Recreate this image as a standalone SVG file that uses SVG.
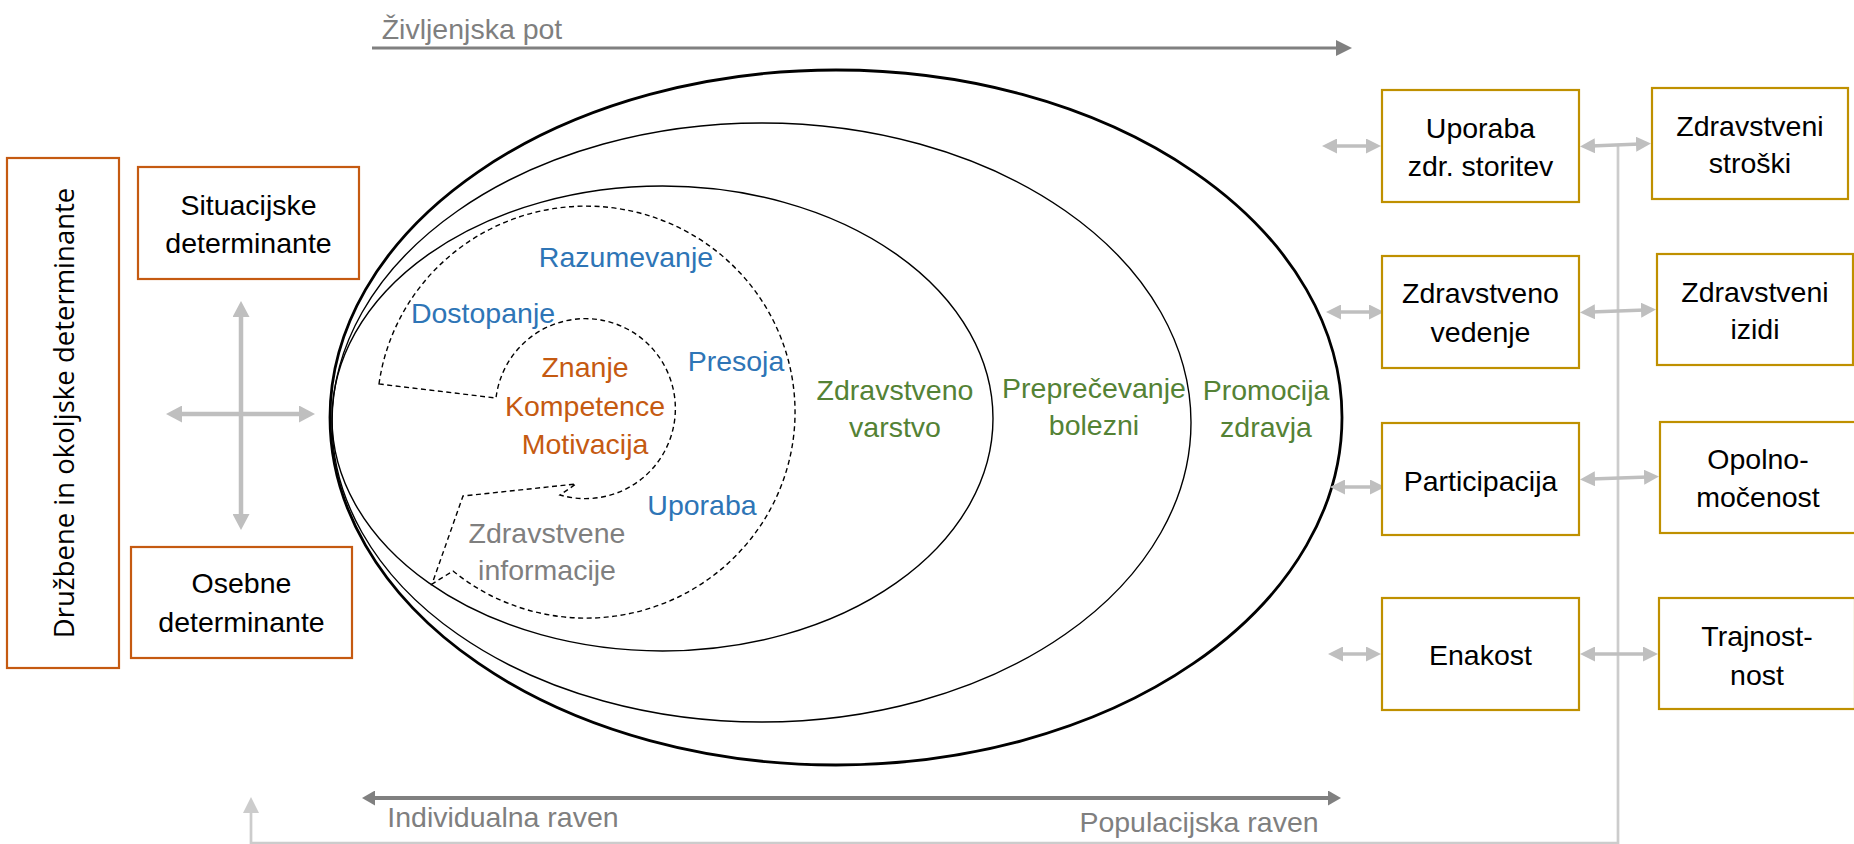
<svg xmlns="http://www.w3.org/2000/svg" width="1854" height="844" viewBox="0 0 1854 844">
<defs>
<style>
.t{font-family:"Liberation Sans",Arial,sans-serif;font-size:28.5px;text-anchor:middle;fill:#000}
.blue{fill:#2E75B6}
.orange{fill:#C55A11}
.green{fill:#548235}
.grey{fill:#7F7F7F}
.obox{fill:#fff;stroke:#C55A11;stroke-width:2.2}
.gbox{fill:#fff;stroke:#BF9000;stroke-width:2.2}
.ell{fill:none;stroke:#000;stroke-width:1.4}
.lt{fill:none;stroke:#BFBFBF;stroke-width:3.5}
</style>
<marker id="mDark" markerUnits="userSpaceOnUse" markerWidth="16" markerHeight="16" refX="5" refY="8" orient="auto-start-reverse" viewBox="0 0 16 16"><path d="M0,0 L16,8 L0,16 z" fill="#808080"/></marker>
<marker id="mDark2" markerUnits="userSpaceOnUse" markerWidth="13" markerHeight="15" refX="4" refY="7.5" orient="auto-start-reverse" viewBox="0 0 13 15"><path d="M0,0 L13,7.5 L0,15 z" fill="#808080"/></marker>
<marker id="mLight" markerUnits="userSpaceOnUse" markerWidth="15" markerHeight="15" refX="4" refY="7.5" orient="auto-start-reverse" viewBox="0 0 15 15"><path d="M0,0 L15,7.5 L0,15 z" fill="#BFBFBF"/></marker>
<marker id="mCross" markerUnits="userSpaceOnUse" markerWidth="16" markerHeight="17" refX="4" refY="8.5" orient="auto-start-reverse" viewBox="0 0 16 17"><path d="M0,0 L16,8.5 L0,17 z" fill="#BFBFBF"/></marker>
<marker id="mFb" markerUnits="userSpaceOnUse" markerWidth="16" markerHeight="16" refX="4" refY="8" orient="auto" viewBox="0 0 16 16"><path d="M0,0 L16,8 L0,16 z" fill="#CCCCCC"/></marker>
</defs>
<rect width="1854" height="844" fill="#fff"/>

<g id="levels">
<ellipse id="promocija" cx="836" cy="417.5" rx="506" ry="347.5" fill="none" stroke="#000" stroke-width="2.8"/>
<ellipse id="preprecevanje" class="ell" cx="761.5" cy="422.5" rx="429.5" ry="299.5"/>
<ellipse id="varstvo" class="ell" cx="662.5" cy="418.5" rx="330.5" ry="232.5"/>
<path id="cycle" d="M379,384 A209,206 0 1,1 453,571 L432,584 L463,496 L576,484 L560,495 A90,90 0 1,0 496,398 Z" fill="none" stroke="#000" stroke-width="1.4" stroke-dasharray="5 3.5"/>
</g>

<g id="connectors">
<line x1="372" y1="48" x2="1341" y2="48" stroke="#808080" stroke-width="3" marker-end="url(#mDark)"/>
<line x1="371" y1="798" x2="1332" y2="798" stroke="#808080" stroke-width="4" marker-start="url(#mDark2)" marker-end="url(#mDark2)"/>
<line x1="241" y1="313" x2="241" y2="518" stroke="#BFBFBF" stroke-width="4.5" marker-start="url(#mCross)" marker-end="url(#mCross)"/>
<line x1="178" y1="414" x2="303" y2="414" stroke="#BFBFBF" stroke-width="4.5" marker-start="url(#mCross)" marker-end="url(#mCross)"/>
<path d="M1618,145 V843 H251 V809" fill="none" stroke="#CCCCCC" stroke-width="2.7" marker-end="url(#mFb)"/>
<line class="lt" x1="1333" y1="146" x2="1370" y2="146" marker-start="url(#mLight)" marker-end="url(#mLight)"/>
<line class="lt" x1="1337" y1="312" x2="1373" y2="312" marker-start="url(#mLight)" marker-end="url(#mLight)"/>
<line class="lt" x1="1341" y1="487" x2="1374" y2="487" marker-start="url(#mLight)" marker-end="url(#mLight)"/>
<line class="lt" x1="1339" y1="654" x2="1370" y2="654" marker-start="url(#mLight)" marker-end="url(#mLight)"/>
<line class="lt" x1="1591" y1="146" x2="1640" y2="144" marker-start="url(#mLight)" marker-end="url(#mLight)"/>
<line class="lt" x1="1591" y1="312" x2="1645" y2="310" marker-start="url(#mLight)" marker-end="url(#mLight)"/>
<line class="lt" x1="1591" y1="479" x2="1648" y2="477" marker-start="url(#mLight)" marker-end="url(#mLight)"/>
<line class="lt" x1="1591" y1="654" x2="1647" y2="654" marker-start="url(#mLight)" marker-end="url(#mLight)"/>
</g>

<g id="labels">
<text class="t grey" x="472" y="39">Življenjska pot</text>
<text class="t grey" x="503" y="827">Individualna raven</text>
<text class="t grey" x="1199" y="832">Populacijska raven</text>
</g>

<g id="druzbene">
<rect class="obox" x="7" y="158" width="112" height="510"/>
<text transform="translate(74,413) rotate(-90)" style="font-family:'Open Sans','Noto Sans',sans-serif;font-size:27.5px;text-anchor:middle;fill:#000">Družbene in okoljske determinante</text>
</g>
<g id="situacijske">
<rect class="obox" x="138" y="167" width="221" height="112"/>
<text class="t" x="248.5" y="215">Situacijske</text>
<text class="t" x="248.5" y="253">determinante</text>
</g>
<g id="osebne">
<rect class="obox" x="131" y="547" width="221" height="111"/>
<text class="t" x="241.5" y="593">Osebne</text>
<text class="t" x="241.5" y="632">determinante</text>
</g>

<g id="inner-texts">
<text class="t blue" x="626" y="267">Razumevanje</text>
<text class="t blue" x="483" y="323">Dostopanje</text>
<text class="t blue" x="736" y="371">Presoja</text>
<text class="t blue" x="702" y="515">Uporaba</text>
<text class="t orange" x="585" y="377">Znanje</text>
<text class="t orange" x="585" y="416">Kompetence</text>
<text class="t orange" x="585" y="454">Motivacija</text>
<text class="t grey" x="547" y="543">Zdravstvene</text>
<text class="t grey" x="547" y="580">informacije</text>
<text class="t green" x="895" y="400">Zdravstveno</text>
<text class="t green" x="895" y="437">varstvo</text>
<text class="t green" x="1094" y="398">Preprečevanje</text>
<text class="t green" x="1094" y="435">bolezni</text>
<text class="t green" x="1266" y="400">Promocija</text>
<text class="t green" x="1266" y="437">zdravja</text>
</g>

<g id="uporaba-storitev">
<rect class="gbox" x="1382" y="90" width="197" height="112"/>
<text class="t" x="1480.5" y="138">Uporaba</text>
<text class="t" x="1480.5" y="176">zdr. storitev</text>
</g>
<g id="vedenje">
<rect class="gbox" x="1382" y="256" width="197" height="112"/>
<text class="t" x="1480.5" y="303">Zdravstveno</text>
<text class="t" x="1480.5" y="342">vedenje</text>
</g>
<g id="participacija">
<rect class="gbox" x="1382" y="423" width="197" height="112"/>
<text class="t" x="1480.5" y="491">Participacija</text>
</g>
<g id="enakost">
<rect class="gbox" x="1382" y="598" width="197" height="112"/>
<text class="t" x="1480.5" y="665">Enakost</text>
</g>
<g id="stroski">
<rect class="gbox" x="1652" y="88" width="196" height="111"/>
<text class="t" x="1750" y="136">Zdravstveni</text>
<text class="t" x="1750" y="173">stroški</text>
</g>
<g id="izidi">
<rect class="gbox" x="1657" y="254" width="196" height="111"/>
<text class="t" x="1755" y="302">Zdravstveni</text>
<text class="t" x="1755" y="339">izidi</text>
</g>
<g id="opolnomocenost">
<rect class="gbox" x="1660" y="422" width="196" height="111"/>
<text class="t" x="1758" y="469">Opolno-</text>
<text class="t" x="1758" y="507">močenost</text>
</g>
<g id="trajnost">
<rect class="gbox" x="1659" y="598" width="196" height="111"/>
<text class="t" x="1757" y="646">Trajnost-</text>
<text class="t" x="1757" y="685">nost</text>
</g>
</svg>
